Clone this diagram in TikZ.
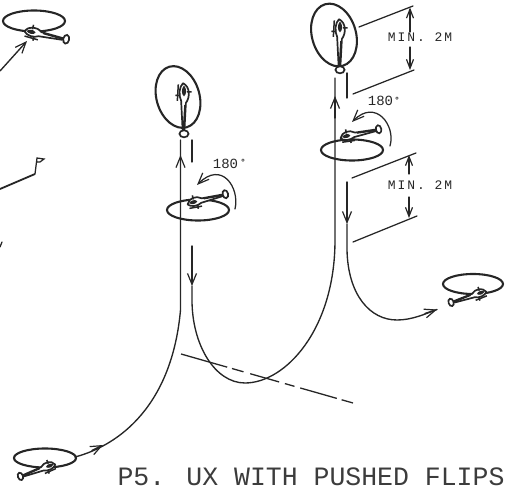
\documentclass[tikz,border=0pt]{standalone}
\usepackage{fontspec}
\usetikzlibrary{arrows.meta}
\newfontfamily\labfont[LetterSpace=15]{Liberation Mono}
\newfontfamily\degfont{Liberation Mono}
\newfontfamily\titlefont{Liberation Mono}
\definecolor{ink}{HTML}{262626}
\tikzset{
  flow/.style={draw=ink,line width=1.35pt,line cap=round,line join=round},
  thin line/.style={draw=ink,line width=1.25pt,line cap=round},
  tip/.style={-{Straight Barb[length=11pt,width=9pt,line width=1.2pt]}},
  dimtip/.style={-{Straight Barb[length=9pt,width=7pt,line width=1.2pt]}},
  disc/.style={draw=ink,line width=2.1pt},
  lab/.style={text=ink,inner sep=0pt,font=\labfont\fontsize{13}{13}\selectfont},
  deg/.style={text=ink,inner sep=0pt,font=\degfont\fontsize{14}{14}\selectfont},
  degmark/.style={text=ink,inner sep=0pt,font=\degfont\bfseries\fontsize{9}{9}\selectfont},
  heli/.pic={
    \draw[ink,line width=1.7pt,line join=round,fill=white] (-8,1) .. controls (-5,-6) and (4,-7) .. (10,-2) -- (34,-.5) -- (34,1.5) -- (8,3) .. controls (3,6) and (-5,5) .. (-8,1) -- cycle;
    \fill[ink] (-6,0) .. controls (-3,-3) and (2,-3) .. (4,0) .. controls (2,3) and (-3,3) .. (-6,0) -- cycle;
    \draw[ink,line width=1.5pt] (-7,6) -- (8,7) (0,-8) -- (0,-3) (3,4) -- (3,9) (12,-1) -- (33,.5);
    \draw[ink,line width=1.7pt,fill=white] (38,0) ellipse[x radius=3.2,y radius=4.8];
  },
}
\begin{document}
\begin{tikzpicture}[x=1pt,y=-1pt]
\useasboundingbox (0,0) rectangle (507,489);
% named points
\coordinate (h1) at (34,21);
\coordinate (h2) at (178,97);
\coordinate (h3) at (198,210);
\coordinate (h4) at (334,35);
\coordinate (h5) at (352,150);
\coordinate (h6) at (473,284);
\coordinate (h7) at (45,458);

% rotor discs
\draw[disc] (h1) ellipse[x radius=31,y radius=10.5];
\draw[disc,rotate around={16:(h2)}] (h2) ellipse[x radius=21.5,y radius=31.5];
\draw[disc] (h3) ellipse[x radius=31,y radius=10.5];
\draw[disc,rotate around={16:(h4)}] (h4) ellipse[x radius=22,y radius=32];
\draw[disc] (h5) ellipse[x radius=31,y radius=10.5];
\draw[disc] (h6) ellipse[x radius=30,y radius=10];
\draw[disc] (h7) ellipse[x radius=31,y radius=9.5];

% helicopters
\pic[rotate=-12,scale=.92] at (32,32) {heli};
\pic[rotate=-90,xscale=1.1,yscale=.95] at (184,92) {heli};
\pic[rotate=14,scale=.85] at (194,202) {heli};
\pic[rotate=-90,xscale=1.1,yscale=.95] at (340,28) {heli};
\pic[rotate=12,scale=.85] at (347,136) {heli};
\pic[rotate=18,xscale=-.8,yscale=.8] at (480,293) {heli};
\pic[rotate=20,xscale=-.8,yscale=.8] at (49,466) {heli};

% flight path: entry and first pull-up
\coordinate (a0) at (75,457);
\coordinate (a1) at (103,445);
\coordinate (a2) at (180.5,155);
\coordinate (a3) at (180.5,140);
\coordinate (a4) at (180.5,310);
\draw[flow] (a0) .. controls (120,445) and (172,405) .. (a4) -- (a3);
\draw[flow,tip] (92,450.5) -- (a1);
\draw[flow,tip] (180.5,176) -- (a2);
% first descent, valley, second climb
\coordinate (b0) at (192,246);
\coordinate (b1) at (192,286);
\coordinate (b2) at (335,96);
\coordinate (b3) at (335,78);
\coordinate (b4) at (245,383);
\draw[flow] (192,140) -- (192,162);
\draw[flow,tip] (b0) -- (b1);
\draw[flow] (b1) -- (192,300) .. controls (192,345) and (215,383) .. (b4) .. controls (285,383) and (335,330) .. (335,240) -- (b3);
\draw[flow,tip] (335,118) -- (b2);
% second descent and exit
\coordinate (c0) at (347,182);
\coordinate (c1) at (347,224);
\coordinate (c2) at (437,309.5);
\coordinate (c3) at (397,320);
\draw[flow] (347,73) -- (347,98);
\draw[flow,tip] (c0) -- (c1);
\draw[flow] (c1) -- (347,250) .. controls (348,295) and (370,320) .. (c3) .. controls (412,320) and (425,314) .. (c2);
\draw[flow,tip] (425,313.5) -- (c2);
% arrow to the upper-left helicopter
\coordinate (d0) at (0,71);
\coordinate (d1) at (27,41);
\draw[flow,tip] (d0) -- (d1);

% judge line
\coordinate (j0) at (181,354);
\coordinate (j1) at (353,403);
\draw[draw=ink,line width=1.3pt,dash pattern=on 48pt off 5pt on 12pt off 7pt on 30pt off 6pt on 10pt off 6pt on 38pt off 5pt on 12pt off 100pt] (j0) -- (j1);

% rotation arcs
\coordinate (r0) at (235,209);
\coordinate (r1) at (197,185);
\draw[thin line,tip] (r0) .. controls (240,188) and (222,160) .. (r1);
\coordinate (r2) at (390,146);
\coordinate (r3) at (352,122);
\draw[thin line,tip] (r2) .. controls (396,126) and (376,98) .. (r3);

% dimension lines
\coordinate (m0) at (359,27); \coordinate (m1) at (413,6);
\coordinate (m2) at (353,94); \coordinate (m3) at (414,70);
\coordinate (m4) at (352,178); \coordinate (m5) at (416,153);
\coordinate (m6) at (353,242); \coordinate (m7) at (417,216);
\draw[thin line] (m0) -- (m1);
\draw[thin line] (m2) -- (m3);
\draw[thin line] (m4) -- (m5);
\draw[thin line] (m6) -- (m7);
\coordinate (g0) at (410,7.5); \coordinate (g1) at (410,70);
\coordinate (g2) at (409,155); \coordinate (g3) at (409,218);
\coordinate (g4) at (410,32); \coordinate (g5) at (410,47);
\coordinate (g6) at (409,174); \coordinate (g7) at (409,197);
\node[lab] (min1) at (420,37.5) {MIN. 2M};
\node[lab] (min2) at (420,185.5) {MIN. 2M};
\draw[thin line,dimtip] (g4) -- (g0);
\draw[thin line,dimtip] (g5) -- (g1);
\draw[thin line,dimtip] (g6) -- (g2);
\draw[thin line,dimtip] (g7) -- (g3);

% flag and edge mark
\coordinate (f0) at (0,189); \coordinate (f1) at (35,174); \coordinate (f2) at (37,158);
\draw[draw=ink,line width=1.8pt] (f0) -- (f1);
\draw[thin line] (f1) -- (f2) -- (44,159) -- (40,162) -- (36.5,162);
\coordinate (e0) at (0,247); \coordinate (e1) at (2,242);
\draw[thin line] (e0) -- (e1);

% labels
\node[deg] (deg1) at (225.5,163.5) {180};
\node[degmark] (dot1) at (243,162) {°};
\node[deg] (deg2) at (380.5,100.5) {180};
\node[degmark] (dot2) at (397,100) {°};
\node[text=ink!90,inner sep=0pt,font=\titlefont\fontsize{26.5}{26.5}\selectfont] (title) at (311,476.5) {P5. UX WITH PUSHED FLIPS};
\end{tikzpicture}
\end{document}
